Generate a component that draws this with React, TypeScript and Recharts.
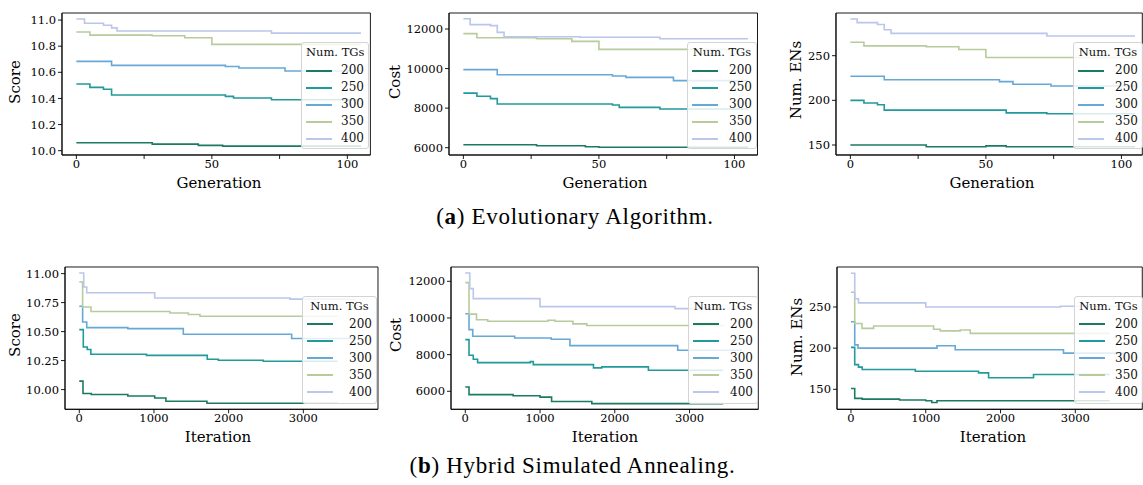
import React from "react";
import { LineChart, Line, XAxis, YAxis, Legend, ReferenceArea } from "recharts";

type Pt = [number, number];

// legend entries (Num. TGs) and their colours
const tgLabels = ["200", "250", "300", "350", "400"];
const tgColors = ["#1d7a62", "#22999a", "#66a8d6", "#b7cb9c", "#bac6ea"];

// (a) Evolutionary Algorithm: [generation, value] step starts
const eaScore200: Pt[] = [[0, 10.061], [28, 10.05], [45, 10.041], [54, 10.035], [105, 10.035]];
const eaScore250: Pt[] = [[0, 10.51], [5, 10.485], [10, 10.47], [13, 10.426], [55, 10.416], [58, 10.403], [72, 10.39], [105, 10.39]];
const eaScore300: Pt[] = [[0, 10.684], [13, 10.653], [55, 10.645], [60, 10.633], [77, 10.61], [105, 10.61]];
const eaScore350: Pt[] = [[0, 10.908], [5, 10.885], [28, 10.88], [40, 10.865], [50, 10.814], [105, 10.814]];
const eaScore400: Pt[] = [[0, 11.008], [3, 10.975], [10, 10.96], [13, 10.94], [15, 10.916], [72, 10.9], [105, 10.9]];

const eaCost200: Pt[] = [[0, 6150], [27, 6100], [45, 6050], [50, 6020], [105, 6020]];
const eaCost250: Pt[] = [[0, 8760], [5, 8600], [10, 8480], [12.5, 8210], [55, 8160], [57.5, 8040], [72.5, 7955], [105, 7955]];
const eaCost300: Pt[] = [[0, 9945], [12.5, 9690], [55, 9625], [60, 9555], [77.5, 9390], [105, 9390]];
const eaCost350: Pt[] = [[0, 11765], [5, 11560], [27, 11510], [40, 11375], [50, 10970], [105, 10970]];
const eaCost400: Pt[] = [[0, 12520], [2.5, 12220], [10, 12170], [12.5, 11830], [15, 11610], [43, 11580], [72.5, 11510], [105, 11510]];

const eaEns200: Pt[] = [[0, 150], [28, 148], [50, 149], [57.5, 148], [105, 148]];
const eaEns250: Pt[] = [[0, 200], [5, 197], [10, 195], [12.5, 189], [57.5, 186], [72.5, 185], [105, 185]];
const eaEns300: Pt[] = [[0, 227], [12.5, 223], [55, 221], [60, 218], [74, 216], [105, 216]];
const eaEns350: Pt[] = [[0, 265], [5, 261], [28, 260], [40, 257], [50, 248], [105, 248]];
const eaEns400: Pt[] = [[0, 291], [2.5, 287], [10, 285], [12.5, 279], [15, 275], [72.5, 272], [105, 272]];

// (b) Hybrid Simulated Annealing: [iteration, value] step starts
const hsaScore200: Pt[] = [[0, 10.073], [50, 9.966], [160, 9.957], [650, 9.945], [1010, 9.928], [1160, 9.9], [1710, 9.882], [3460, 9.882]];
const hsaScore250: Pt[] = [[0, 10.517], [54, 10.367], [107, 10.345], [155, 10.305], [900, 10.295], [1714, 10.262], [1862, 10.253], [2464, 10.244], [3460, 10.244]];
const hsaScore300: Pt[] = [[0, 10.718], [45, 10.583], [100, 10.534], [650, 10.526], [1393, 10.477], [2844, 10.44], [3700, 10.44]];
const hsaScore350: Pt[] = [[0, 10.928], [45, 10.712], [157, 10.673], [1214, 10.66], [1460, 10.647], [1616, 10.632], [3460, 10.632]];
const hsaScore400: Pt[] = [[0, 11.005], [60, 10.885], [100, 10.835], [1010, 10.79], [2820, 10.78], [3700, 10.78]];

const hsaCost200: Pt[] = [[0, 6235], [50, 5820], [640, 5760], [1000, 5680], [1155, 5440], [1693, 5330], [3450, 5330]];
const hsaCost250: Pt[] = [[0, 8820], [50, 7965], [107, 7745], [165, 7565], [870, 7620], [910, 7455], [1715, 7275], [1826, 7330], [2450, 7145], [3450, 7145]];
const hsaCost300: Pt[] = [[0, 10230], [50, 9365], [100, 9000], [660, 8910], [1150, 8840], [1400, 8490], [2842, 8236], [3700, 8236]];
const hsaCost350: Pt[] = [[0, 11927], [50, 10210], [150, 9900], [300, 9818], [1107, 9873], [1200, 9818], [1440, 9680], [1626, 9585], [3460, 9585]];
const hsaCost400: Pt[] = [[0, 12450], [60, 11600], [107, 11055], [1000, 10620], [2806, 10510], [3700, 10510]];

const hsaEns200: Pt[] = [[0, 151], [50, 139], [150, 138], [650, 137], [1000, 136], [1080, 134], [1150, 136], [3460, 136]];
const hsaEns250: Pt[] = [[0, 201], [50, 180], [100, 177], [150, 174], [860, 172], [1706, 170], [1840, 164], [2441, 168], [3460, 168]];
const hsaEns300: Pt[] = [[0, 232], [50, 204], [94, 200], [1150, 203], [1394, 198], [2842, 194], [3700, 194]];
const hsaEns350: Pt[] = [[0, 268], [50, 230], [147, 224], [303, 227], [1105, 223], [1194, 221], [1461, 222], [1595, 218], [3460, 218]];
const hsaEns400: Pt[] = [[0, 291], [50, 260], [100, 255], [1000, 250], [2800, 251], [3700, 251]];

// tick values
const genTicks = [0, 25, 50, 75, 100];
const iterTicks = [0, 1000, 2000, 3000];
const eaScoreTicks = [10.0, 10.2, 10.4, 10.6, 10.8, 11.0];
const hsaScoreTicks = [10.0, 10.25, 10.5, 10.75, 11.0];
const costTicks = [6000, 8000, 10000, 12000];
const ensTicks = [150, 200, 250];

const FONT = "'DejaVu Serif', serif";
const YW = 50;
const MT = 5;
const MR = 5;
const XH = 30;

const toData = (pts: Pt[]) => pts.map(([x, y]) => ({ x, y }));

type PanelProps = {
  box: { l: number; r: number; t: number; b: number };
  xDomain: [number, number];
  yDomain: [number, number];
  xTicks: number[];
  xFmt: (v: number) => string;
  yTicks: number[];
  yFmt: (v: number) => string;
  series: Pt[][];
  legendBox: { l: number; t: number; w: number; h: number };
};

const renderLegend = (props: any) => {
  const payload = props.payload || [];
  return (
    <div
      style={{
        width: "100%",
        height: "100%",
        boxSizing: "border-box",
        background: "rgba(255,255,255,0.82)",
        border: "1px solid #d4d4d4",
        borderRadius: 3,
        fontFamily: FONT,
        fontSize: 12,
        color: "#111",
        padding: "2px 4px 0 4px",
      }}
    >
      <div style={{ textAlign: "center", fontSize: 11.5, lineHeight: "14px", marginBottom: 3, whiteSpace: "nowrap" }}>Num. TGs</div>
      {payload.map((p: any) => (
        <div key={p.value} style={{ display: "flex", alignItems: "center", height: 17 }}>
          <span style={{ width: 26, height: 0, borderTop: `2px solid ${p.color}` }} />
          <span style={{ marginLeft: "auto", lineHeight: "17px" }}>{p.value}</span>
        </div>
      ))}
    </div>
  );
};

function Panel({ box, xDomain, yDomain, xTicks, xFmt, yTicks, yFmt, series, legendBox }: PanelProps) {
  const pw = box.r - box.l;
  const ph = box.b - box.t;
  const left = box.l - YW;
  const top = box.t - MT;
  const tick = { fontFamily: FONT, fontSize: 11.5, fill: "#000" };
  const axisLine = { stroke: "#000", strokeWidth: 0.9 };
  return (
    <div style={{ position: "absolute", left, top }}>
      <LineChart
        width={YW + pw + MR}
        height={MT + ph + XH}
        margin={{ top: MT, right: MR, left: 0, bottom: 0 }}
      >
        <XAxis
          dataKey="x"
          type="number"
          domain={xDomain}
          allowDataOverflow
          ticks={xTicks}
          tickFormatter={xFmt}
          interval={0}
          height={XH}
          tick={tick}
          tickSize={4}
          tickMargin={1}
          axisLine={axisLine}
          tickLine={{ stroke: "#000", strokeWidth: 0.9 }}
        />
        <YAxis
          type="number"
          domain={yDomain}
          allowDataOverflow
          ticks={yTicks}
          tickFormatter={yFmt}
          interval={0}
          width={YW}
          tick={tick}
          tickSize={4}
          tickMargin={2}
          axisLine={axisLine}
          tickLine={{ stroke: "#000", strokeWidth: 0.9 }}
        />
        {series.map((s, i) => (
          <Line
            key={tgLabels[i]}
            data={toData(s)}
            dataKey="y"
            name={tgLabels[i]}
            type="stepAfter"
            stroke={tgColors[i]}
            strokeWidth={1.6}
            dot={false}
            activeDot={false}
            isAnimationActive={false}
          />
        ))}
        <ReferenceArea
          x1={xDomain[0]}
          x2={xDomain[1]}
          y1={yDomain[0]}
          y2={yDomain[1]}
          fill="none"
          stroke="#000"
          strokeWidth={0.9}
          ifOverflow="visible"
        />
        <Legend
          layout="horizontal"
          align="center"
          verticalAlign="middle"
          content={renderLegend}
          wrapperStyle={{
            left: legendBox.l - left,
            top: legendBox.t - top,
            width: legendBox.w,
            height: legendBox.h,
          }}
        />
      </LineChart>
    </div>
  );
}

function AxisText({ x, y, text, vertical }: { x: number; y: number; text: string; vertical?: boolean }) {
  return (
    <div
      style={{
        position: "absolute",
        left: x,
        top: y,
        transform: `translate(-50%, -50%)${vertical ? " rotate(-90deg)" : ""}`,
        fontFamily: FONT,
        fontSize: 15,
        color: "#000",
        whiteSpace: "nowrap",
        lineHeight: "18px",
      }}
    >
      {text}
    </div>
  );
}

const genFmt = (v: number) => (v % 50 === 0 ? String(v) : "");
const intFmt = (v: number) => String(v);

const captionStyle: React.CSSProperties = {
  position: "absolute",
  left: 0,
  textAlign: "center",
  fontFamily: "'Liberation Serif', serif",
  fontSize: 23,
  letterSpacing: 0.7,
  lineHeight: "26px",
  color: "#000",
};

export default function App() {
  return (
    <div style={{ position: "absolute", left: 0, top: 0, width: 1143, height: 485, background: "#fff", overflow: "hidden" }}>
      <Panel
        box={{ l: 62.3, r: 370.7, t: 13, b: 155 }}
        xDomain={[-5.3, 108.5]}
        yDomain={[9.967, 11.054]}
        xTicks={genTicks}
        xFmt={genFmt}
        yTicks={eaScoreTicks}
        yFmt={(v) => v.toFixed(1)}
        series={[eaScore200, eaScore250, eaScore300, eaScore350, eaScore400]}
        legendBox={{ l: 301, t: 42, w: 68, h: 107 }}
      />
      <Panel
        box={{ l: 449, r: 757.5, t: 13, b: 155 }}
        xDomain={[-5.3, 108.5]}
        yDomain={[5631, 12809]}
        xTicks={genTicks}
        xFmt={genFmt}
        yTicks={costTicks}
        yFmt={intFmt}
        series={[eaCost200, eaCost250, eaCost300, eaCost350, eaCost400]}
        legendBox={{ l: 687, t: 42, w: 70, h: 107 }}
      />
      <Panel
        box={{ l: 835.7, r: 1142, t: 13, b: 155 }}
        xDomain={[-5.3, 107.7]}
        yDomain={[138.8, 297.8]}
        xTicks={genTicks}
        xFmt={genFmt}
        yTicks={ensTicks}
        yFmt={intFmt}
        series={[eaEns200, eaEns250, eaEns300, eaEns350, eaEns400]}
        legendBox={{ l: 1073, t: 42, w: 70, h: 107 }}
      />
      <Panel
        box={{ l: 65, r: 378, t: 266.7, b: 409 }}
        xDomain={[-191, 4000]}
        yDomain={[9.83, 11.057]}
        xTicks={iterTicks}
        xFmt={intFmt}
        yTicks={hsaScoreTicks}
        yFmt={(v) => v.toFixed(2)}
        series={[hsaScore200, hsaScore250, hsaScore300, hsaScore350, hsaScore400]}
        legendBox={{ l: 302, t: 296, w: 75, h: 108 }}
      />
      <Panel
        box={{ l: 450.7, r: 758, t: 266.7, b: 409 }}
        xDomain={[-191, 3920]}
        yDomain={[5018, 12780]}
        xTicks={iterTicks}
        xFmt={intFmt}
        yTicks={costTicks}
        yFmt={intFmt}
        series={[hsaCost200, hsaCost250, hsaCost300, hsaCost350, hsaCost400]}
        legendBox={{ l: 688, t: 296, w: 70, h: 108 }}
      />
      <Panel
        box={{ l: 836.7, r: 1142, t: 266.7, b: 409 }}
        xDomain={[-187, 3896]}
        yDomain={[125.7, 298.6]}
        xTicks={iterTicks}
        xFmt={intFmt}
        yTicks={ensTicks}
        yFmt={intFmt}
        series={[hsaEns200, hsaEns250, hsaEns300, hsaEns350, hsaEns400]}
        legendBox={{ l: 1074, t: 296, w: 69, h: 108 }}
      />

      <AxisText x={15} y={82} text="Score" vertical />
      <AxisText x={219} y={183} text="Generation" />
      <AxisText x={395} y={82} text="Cost" vertical />
      <AxisText x={605} y={183} text="Generation" />
      <AxisText x={796} y={80} text="Num. ENs" vertical />
      <AxisText x={992} y={183} text="Generation" />

      <AxisText x={15} y={335} text="Score" vertical />
      <AxisText x={218} y={437} text="Iteration" />
      <AxisText x={396} y={335} text="Cost" vertical />
      <AxisText x={605} y={437} text="Iteration" />
      <AxisText x={797} y={337} text="Num. ENs" vertical />
      <AxisText x={993} y={437} text="Iteration" />

      <div style={{ ...captionStyle, width: 1150, top: 204 }}>
        (<b>a</b>) Evolutionary Algorithm.
      </div>
      <div style={{ ...captionStyle, width: 1145, top: 453 }}>
        (<b>b</b>) Hybrid Simulated Annealing.
      </div>
    </div>
  );
}
